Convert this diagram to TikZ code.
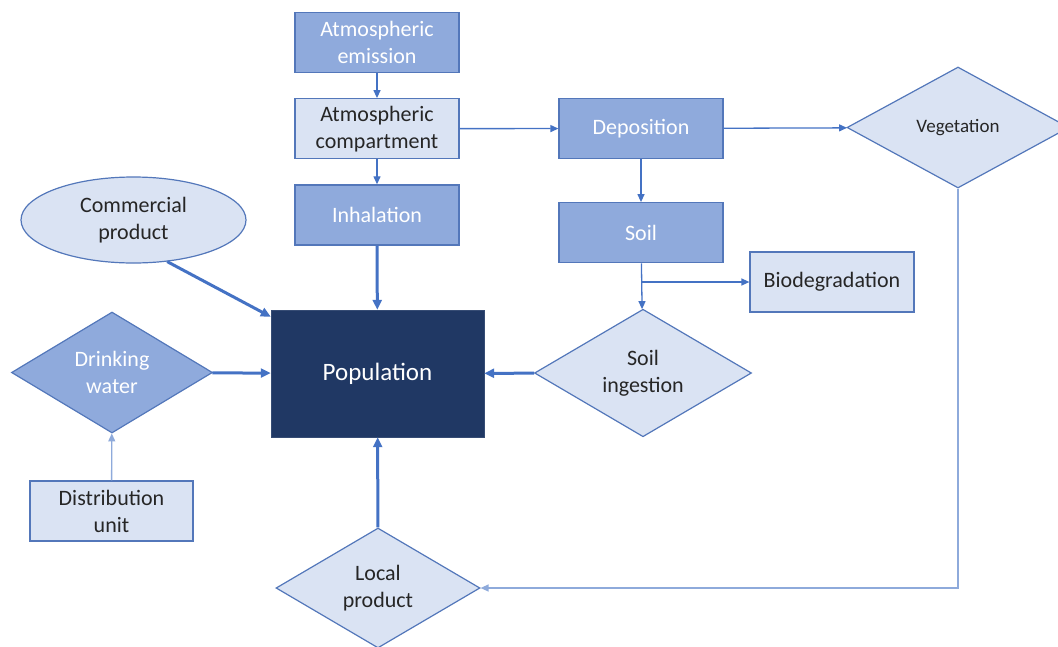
\documentclass[tikz,border=0pt]{standalone}
\usepackage{fontspec}
\setmainfont{Carlito}
\usetikzlibrary{positioning,shapes.geometric,arrows.meta}

\definecolor{midblue}{HTML}{8FAADC}
\definecolor{paleblue}{HTML}{DAE3F3}
\definecolor{navy}{HTML}{203864}
\definecolor{edgeblue}{HTML}{5377BA}
\definecolor{arrowblue}{HTML}{4472C4}
\definecolor{faintblue}{HTML}{8EAADB}

\tikzset{
  basefont/.style={font=\fontsize{22}{27}\selectfont},
  midbox/.style={rectangle, draw=edgeblue, line width=1.2pt, fill=midblue, text=white,
    minimum width=164pt, minimum height=60pt, align=center, basefont},
  palebox/.style={rectangle, draw=edgeblue, line width=1.2pt, fill=paleblue, text=black!85,
    minimum width=164pt, minimum height=60pt, align=center, basefont},
  palediamond/.style={diamond, draw=edgeblue, line width=1.2pt, fill=paleblue, text=black!85,
    inner sep=0pt, align=center, basefont},
  thinarrow/.style={-{Triangle[length=8pt,width=7pt]}, line width=1.3pt, draw=arrowblue},
  thickarrow/.style={-{Triangle[length=10pt,width=9pt]}, line width=3pt, draw=arrowblue},
  faintarrow/.style={-{Triangle[length=8pt,width=7pt]}, line width=1.3pt, draw=faintblue},
}

\begin{document}
\begin{tikzpicture}[x=1pt, y=-1pt]

    \useasboundingbox (0,0) rectangle (1058,646);

    %% atmosphere column
    \node[midbox] (emis) at (377,42.5) {Atmospheric\\emission};
    \node[palebox, below=25pt of emis] (atmo) {Atmospheric\\compartment};
    \node[midbox, below=25pt of atmo] (inhal) {Inhalation};

    \node[rectangle, draw=navy!90!white, fill=navy, text=white, minimum width=213pt,
      minimum height=127pt, font=\fontsize{25}{30}\selectfont] (pop) at (377.5,373.5) {Population};

    %% deposition / soil section
    \node[midbox] (dep) at (641,128.5) {Deposition};
    \node[midbox, below=43pt of dep] (soil) {Soil};
    \node[palebox] (bio) at (832,282) {Biodegradation};

    \node[palediamond, minimum width=222pt, minimum height=121pt,
      font=\fontsize{19}{23}\selectfont] (veg) at (958,127.5) {Vegetation};
    \node[palediamond, minimum width=217pt, minimum height=121pt] (ingest) at (643,373) {Soil\\ingestion};
    \node[palediamond, minimum width=204pt, minimum height=120pt] (local) at (378,588) {Local\\product};

    %% left side
    \node[ellipse, draw=edgeblue, line width=1.2pt, fill=paleblue, text=black!85, inner sep=0pt,
      minimum width=225pt, minimum height=86pt, align=center, basefont] (comm) at (133.5,220) {Commercial\\product};
    \node[palediamond, fill=midblue, text=white, minimum width=201pt, minimum height=121pt] (water) at (112,372.5) {Drinking\\water};
    \node[palebox, minimum width=163pt] (distr) at (111.5,511) {Distribution\\unit};

    \draw[thinarrow] (emis) -- (atmo);
    \draw[thinarrow] (atmo) -- (inhal);
    \draw[thinarrow] (atmo) -- (dep);
    \draw[thickarrow] (inhal) -- (pop);

    \draw[thinarrow] (dep) -- (veg);
    \draw[thinarrow] (dep) -- (soil);
    \draw[thinarrow] (soil) -- (ingest);
    \coordinate (split) at (soil.south |- bio.west);
    \draw[thinarrow] (split) -- (bio);
    \draw[thickarrow] (ingest) -- (pop);

    \draw[faintarrow] (veg.south) |- (local.east);
    \draw[thickarrow] (local) -- (pop);

    \draw[thickarrow] (comm.-51) -- (pop.152);
    \draw[thickarrow] (water) -- (pop);
    \draw[faintarrow] (distr) -- (water);

\end{tikzpicture}
\end{document}
